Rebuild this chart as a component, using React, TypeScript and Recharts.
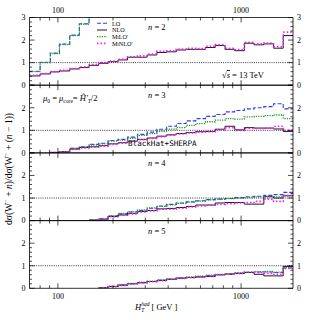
import { LineChart, Line, XAxis, YAxis, ReferenceLine } from 'recharts'

// bin edges in GeV (27 bins, last edge = right end of plot)
const binEdges = [70, 80, 91, 102, 116, 131, 148, 167, 188, 213, 240, 272, 307, 347, 392, 443, 501, 566, 639, 722, 817, 922, 1042, 1177, 1330, 1504, 1698, 1920]
const xTicks = [80, 90, 100, 200, 300, 400, 500, 600, 700, 800, 900, 1000]
const xLabels = [100, 1000]
const yTicks = [0, 0.2, 0.4, 0.6, 0.8, 1, 1.2, 1.4, 1.6, 1.8, 2, 2.2, 2.4, 2.6, 2.8, 3]

const N = null

// n = 2
const lo2 = [0.62, 1.02, 1.42, 1.82, 2.22, 2.72, 3.6, N, N, N, N, N, N, N, N, N, N, N, N, N, N, N, N, N, N, N, N]
const nlo2 = [0.41, 0.5, 0.59, 0.63, 0.72, 0.78, 0.88, 0.97, 1.04, 1.12, 1.24, 1.24, 1.34, 1.45, 1.48, 1.56, 1.59, 1.59, 1.67, 1.76, 1.59, 1.53, 1.86, 1.79, 1.83, 1.64, 2.2]
const milo2 = [0.6, 1.0, 1.4, 1.8, 2.2, 2.7, 3.6, N, N, N, N, N, N, N, N, N, N, N, N, N, N, N, N, N, N, N, N]
const minlo2 = [0.44, 0.52, 0.6, 0.66, 0.74, 0.82, 0.92, 1.0, 1.07, 1.15, 1.26, 1.3, 1.38, 1.5, 1.52, 1.6, 1.64, 1.62, 1.72, 1.8, 1.64, 1.58, 1.9, 1.83, 1.87, 1.7, 2.35]

// n = 3
const lo3 = [N, N, 0.02, 0.06, 0.2, 0.27, 0.38, 0.43, 0.55, 0.6, 0.7, 0.82, 0.92, 1.05, 1.18, 1.3, 1.42, 1.52, 1.62, 1.7, 1.82, 1.88, 1.95, 2.0, 2.05, 2.18, 1.95]
const nlo3 = [N, N, 0.02, 0.05, 0.17, 0.24, 0.27, 0.32, 0.4, 0.45, 0.52, 0.6, 0.66, 0.74, 0.8, 0.86, 0.9, 0.94, 0.95, 1.05, 1.18, 1.02, 1.12, 1.1, 1.1, 1.06, 0.95]
const milo3 = [N, N, 0.02, 0.06, 0.2, 0.27, 0.35, 0.4, 0.52, 0.57, 0.65, 0.78, 0.85, 0.95, 1.05, 1.12, 1.22, 1.3, 1.38, 1.45, 1.52, 1.5, 1.6, 1.62, 1.65, 1.68, 1.52]
const minlo3 = [N, N, 0.02, 0.05, 0.15, 0.22, 0.25, 0.3, 0.38, 0.43, 0.5, 0.58, 0.64, 0.72, 0.78, 0.84, 0.88, 0.92, 0.94, 1.02, 1.12, 1.0, 1.08, 1.08, 1.1, 1.18, 1.0]

// n = 4
const lo4 = [N, N, N, N, N, N, 0.02, 0.08, 0.2, 0.3, 0.38, 0.45, 0.55, 0.65, 0.72, 0.78, 0.83, 0.88, 0.93, 0.95, 0.98, 1.02, 1.06, 1.08, 1.12, 1.15, 1.25]
const nlo4 = [N, N, N, N, N, N, 0.02, 0.06, 0.18, 0.25, 0.32, 0.4, 0.45, 0.52, 0.54, 0.58, 0.63, 0.69, 0.69, 0.78, 0.8, 0.8, 0.73, 0.73, 1.06, 1.0, 1.1]
const milo4 = [N, N, N, N, N, N, 0.02, 0.08, 0.22, 0.32, 0.4, 0.47, 0.56, 0.63, 0.7, 0.76, 0.82, 0.86, 0.92, 0.95, 0.97, 1.0, 1.02, 1.05, 1.07, 1.05, 1.1]
const minlo4 = [N, N, N, N, N, N, 0.02, 0.06, 0.17, 0.24, 0.3, 0.38, 0.43, 0.5, 0.5, 0.55, 0.6, 0.65, 0.68, 0.72, 0.75, 0.78, 0.8, 0.85, 0.95, 0.85, 1.12]

// n = 5
const lo5 = [N, N, N, N, N, N, N, 0.02, 0.08, 0.14, 0.2, 0.25, 0.3, 0.35, 0.4, 0.45, 0.48, 0.52, 0.56, 0.6, 0.63, 0.66, 0.7, 0.72, 0.72, 0.7, 0.9]
const nlo5 = [N, N, N, N, N, N, N, 0.02, 0.08, 0.14, 0.2, 0.25, 0.3, 0.35, 0.4, 0.45, 0.48, 0.5, 0.52, 0.6, 0.63, 0.66, 0.7, 0.62, 0.55, 0.55, 0.97]
const milo5 = [N, N, N, N, N, N, N, 0.02, 0.1, 0.16, 0.22, 0.27, 0.32, 0.37, 0.42, 0.46, 0.5, 0.54, 0.58, 0.62, 0.65, 0.68, 0.72, 0.74, 0.75, 0.72, 0.92]
const minlo5 = [N, N, N, N, N, N, N, 0.02, 0.07, 0.13, 0.19, 0.24, 0.29, 0.34, 0.4, 0.44, 0.47, 0.5, 0.55, 0.6, 0.62, 0.66, 0.72, 0.7, 0.66, 0.62, 0.88]

const panels = [
  { n: 2, lo: lo2, nlo: nlo2, milo: milo2, minlo: minlo2 },
  { n: 3, lo: lo3, nlo: nlo3, milo: milo3, minlo: minlo3 },
  { n: 4, lo: lo4, nlo: nlo4, milo: milo4, minlo: minlo4 },
  { n: 5, lo: lo5, nlo: nlo5, milo: milo5, minlo: minlo5 },
]

const W = 309
const H = 320
const plotLeft = 29.5
const plotRight = 293
const panelTops = [17.5, 85.2, 152.9, 220.6]
const panelH = 67.7

const serif = '"Liberation Serif", "DejaVu Serif", serif'
const mono = '"DejaVu Sans Mono", "Liberation Mono", monospace'
const BLUE = '#2a3cff'
const GREEN = '#1f9a1f'
const MAGENTA = '#ff1cff'

const axisLine = { stroke: '#000', strokeWidth: 0.8 }

function XTick(props: any) {
  const { x, y, payload, side, showLabel } = props
  const v = payload.value
  const major = xLabels.includes(v)
  const len = major ? 5 : 3
  const dir = side === 'bottom' ? -1 : 1
  return (
    <g>
      <line x1={x} x2={x} y1={y} y2={y + dir * len} stroke="#000" strokeWidth={0.7} />
      {showLabel && major && (
        <text x={x} y={side === 'bottom' ? y + 11 : y - 5} textAnchor="middle" fontSize={8} fontFamily={serif}>
          {v}
        </text>
      )}
    </g>
  )
}

function YTick(props: any) {
  const { x, y, payload, side, maxLabel } = props
  const v = payload.value
  const major = Number.isInteger(v)
  const len = major ? 5 : 2.5
  const dir = side === 'left' ? 1 : -1
  return (
    <g>
      <line x1={x} x2={x + dir * len} y1={y} y2={y} stroke="#000" strokeWidth={0.7} />
      {major && v <= maxLabel && (
        <text x={side === 'left' ? x - 4 : x + 4} y={y + 2.8} textAnchor={side === 'left' ? 'end' : 'start'} fontSize={8} fontFamily={serif}>
          {v}
        </text>
      )}
    </g>
  )
}

function Panel({ idx }: { idx: number }) {
  const p = panels[idx]
  const top = panelTops[idx]
  const bottom = H - top - panelH
  const last = binEdges.length - 2
  const rows = binEdges.map((x, i) => {
    const j = Math.min(i, last)
    return { x, lo: p.lo[j], nlo: p.nlo[j], milo: p.milo[j], minlo: p.minlo[j] }
  })
  const maxLabel = idx === 0 ? 3 : 2
  // axes are 1px thick so that they render; margins shrink by 1 to compensate
  return (
    <div style={{ position: 'absolute', left: 0, top: 0 }}>
      <LineChart width={W} height={H} data={rows} margin={{ top: top - 1, bottom: bottom - 1, left: plotLeft - 1, right: W - plotRight - 1 }}>
        <XAxis xAxisId="b" dataKey="x" type="number" scale="log" domain={[70, 1920]} allowDataOverflow ticks={xTicks} interval={0} height={1} tickSize={0} tickMargin={0} tickLine={false} axisLine={axisLine} tick={(t: any) => <XTick {...t} side="bottom" showLabel={idx === 3} />} />
        <XAxis xAxisId="t" orientation="top" dataKey="x" type="number" scale="log" domain={[70, 1920]} allowDataOverflow ticks={xTicks} interval={0} height={1} tickSize={0} tickMargin={0} tickLine={false} axisLine={axisLine} tick={(t: any) => <XTick {...t} side="top" showLabel={idx === 0} />} />
        <YAxis yAxisId="l" type="number" domain={[0, 3]} allowDataOverflow ticks={yTicks} interval={0} width={1} tickSize={0} tickMargin={0} tickLine={false} axisLine={axisLine} tick={(t: any) => <YTick {...t} side="left" maxLabel={maxLabel} />} />
        <YAxis yAxisId="r" orientation="right" type="number" domain={[0, 3]} allowDataOverflow ticks={yTicks} interval={0} width={1} tickSize={0} tickMargin={0} tickLine={false} axisLine={axisLine} tick={(t: any) => <YTick {...t} side="right" maxLabel={maxLabel} />} />
        <ReferenceLine xAxisId="b" yAxisId="l" y={1} stroke="#000" strokeWidth={0.8} strokeDasharray="1 1.2" />
        <Line xAxisId="b" yAxisId="l" type="stepAfter" dataKey="lo" stroke={BLUE} strokeWidth={1.1} strokeDasharray="4 2" dot={false} isAnimationActive={false} />
        <Line xAxisId="b" yAxisId="l" type="stepAfter" dataKey="nlo" stroke="#000" strokeWidth={0.9} dot={false} isAnimationActive={false} />
        <Line xAxisId="b" yAxisId="l" type="stepAfter" dataKey="milo" stroke={GREEN} strokeWidth={1.3} strokeDasharray="1.2 1.2" dot={false} isAnimationActive={false} />
        <Line xAxisId="b" yAxisId="l" type="stepAfter" dataKey="minlo" stroke={MAGENTA} strokeWidth={1.6} strokeDasharray="1.5 2" dot={false} isAnimationActive={false} />
      </LineChart>
    </div>
  )
}

function Overlay() {
  const nBase = [29.5, 98, 166, 233.5]
  const legend = [
    { label: 'LO', color: BLUE, dash: '4 2', w: 1.1 },
    { label: 'NLO', color: '#000', dash: undefined, w: 0.9 },
    { label: 'MiLO′', color: GREEN, dash: '1.2 1.2', w: 1.3 },
    { label: 'MiNLO′', color: MAGENTA, dash: '1.5 2', w: 1.6 },
  ]
  return (
    <svg width={W} height={H} style={{ position: 'absolute', left: 0, top: 0 }} fontFamily={serif}>
      {legend.map((l, i) => (
        <g key={l.label}>
          <line x1={97} x2={107} y1={23.3 + i * 6.7} y2={23.3 + i * 6.7} stroke={l.color} strokeWidth={l.w} strokeDasharray={l.dash} />
          <text x={112} y={25.6 + i * 6.7} fontSize={6.2} style={{ fontVariant: 'small-caps' }}>{l.label}</text>
        </g>
      ))}
      {panels.map((p, i) => (
        <text key={p.n} x={148} y={nBase[i]} fontSize={8.5}>
          <tspan fontStyle="italic">n</tspan> = {p.n}
        </text>
      ))}
      <text x={222} y={78} fontSize={8.5}>√<tspan fontStyle="italic" textDecoration="overline">s</tspan> = 13 TeV</text>
      <text x={43} y={101} fontSize={8.5}>
        <tspan fontStyle="italic">μ</tspan><tspan fontSize={5.5} dy={1.5}>0</tspan>
        <tspan dy={-1.5}> = </tspan><tspan fontStyle="italic">μ</tspan><tspan fontSize={5.5} dy={1.5}>core</tspan>
        <tspan dy={-1.5}>= </tspan><tspan fontStyle="italic">Ĥ′</tspan><tspan fontSize={5.5} fontStyle="italic" dy={1.5}>T</tspan>
        <tspan dy={-1.5}>/2</tspan>
      </text>
      <text x={128} y={146} fontSize={7.6} fontFamily={mono}>BlackHat+SHERPA</text>
      <text transform="translate(11.5,169) rotate(-90)" textAnchor="middle" fontSize={9.6}>
        dσ(W<tspan fontSize={6.4} dy={-3.2}>−</tspan><tspan dy={3.2}> + </tspan><tspan fontStyle="italic">n</tspan>)/dσ(W<tspan fontSize={6.4} dy={-3.2}>−</tspan><tspan dy={3.2}> + (</tspan><tspan fontStyle="italic">n</tspan> − 1))
      </text>
      <text x={135} y={310} fontSize={8.5}>
        <tspan fontStyle="italic">H</tspan><tspan fontSize={5.5} fontStyle="italic" dy={2}>T</tspan>
        <tspan fontSize={5.5} fontStyle="italic" dx={-3} dy={-6}>had</tspan>
        <tspan dy={4} dx={2}>[ GeV ]</tspan>
      </text>
    </svg>
  )
}

export default function App() {
  return (
    <div style={{ position: 'absolute', left: 0, top: 0, width: W, height: H, background: '#fff' }}>
      {panels.map((p, i) => (
        <Panel key={p.n} idx={i} />
      ))}
      <Overlay />
    </div>
  )
}
